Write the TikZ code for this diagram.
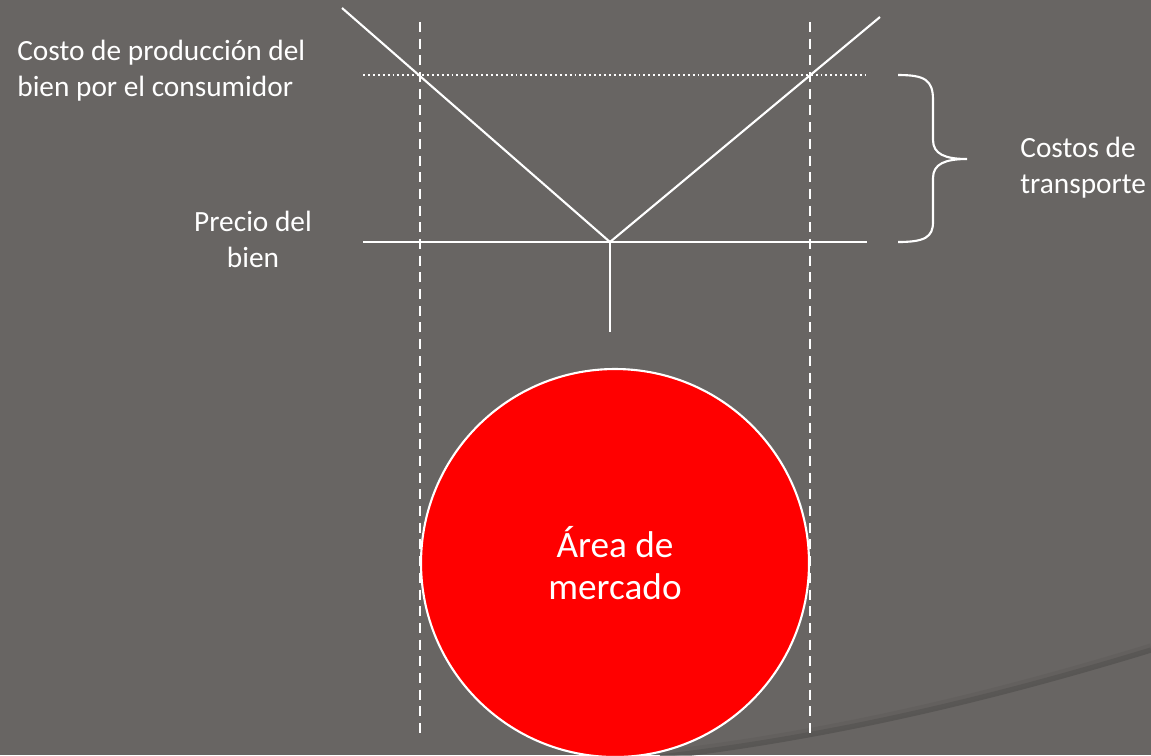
\documentclass[tikz,border=0pt]{standalone}
\usepackage{fontspec}
\setmainfont{Carlito}
\usepackage{tikz}
\definecolor{slide}{HTML}{686563}
\definecolor{mred}{HTML}{FF0000}

\begin{document}
\begin{tikzpicture}[x=0.02cm,y=-0.02cm,
    line/.style={white,line width=1.2pt},
    guide/.style={white,line width=1.2pt,dash pattern=on 5.7pt off 3.8pt},
    lbl/.style={white,font=\fontsize{16.7}{20.4}\selectfont,inner sep=0pt}]
    \fill[slide] (0,0) rectangle (1151,755);
    \useasboundingbox (0,0) rectangle (1151,755);
    % swoosh of the slide
    \draw[black!25!slide,line width=3pt,opacity=0.6] (660,757) .. controls (850,735) and (1020,690) .. (1151,650);
    \draw[black!12!slide,line width=4pt,opacity=0.4] (660,754) .. controls (850,732) and (1020,687) .. (1151,647);
    % market area
    \node[circle,draw=white,line width=1.2pt,fill=mred,minimum size=388*0.02cm,
          text=white,align=center,font=\fontsize{21.2}{23.8}\selectfont] (area) at (615,563) {Área de\\mercado};
    % points
    \coordinate (v) at (610,242);
    \coordinate (ltop) at (342,8);
    \coordinate (rtop) at (880,17);
    \coordinate (stem) at (610,332);
    \coordinate (pl) at (363,242);
    \coordinate (pr) at (867,242);
    \coordinate (cl) at (363,75);
    \coordinate (cr) at (866,75);
    \coordinate (dl1) at (420,22);
    \coordinate (dl2) at (420,733);
    \coordinate (dr1) at (810,22);
    \coordinate (dr2) at (810,733);
    \draw[guide] (dl1) -- (dl2);
    \draw[guide] (dr1) -- (dr2);
    \draw[white,line width=1.2pt,dash pattern=on 1.1pt off 1.7pt] (cl) -- (cr);
    \draw[line] (pl) -- (pr);
    \draw[line] (ltop) -- (v) -- (rtop);
    \draw[line] (v) -- (stem);
    % brace
    \draw[line] (898,75) .. controls (925,75) and (933,80) .. (933,100) -- (933,140)
        .. controls (933,154) and (945,159) .. (967,159)
        .. controls (945,159) and (933,164) .. (933,178) -- (933,222)
        .. controls (933,237) and (925,242) .. (898,242);
    % labels
    \node[lbl,anchor=west,align=left] (costo) at (17,71) {Costo de producción del\\bien por el consumidor};
    \node[lbl,align=center] (precio) at (253,239) {Precio del\\bien};
    \node[lbl,anchor=west,align=left] (transp) at (1020,168) {Costos de\\transporte};
\end{tikzpicture}
\end{document}
